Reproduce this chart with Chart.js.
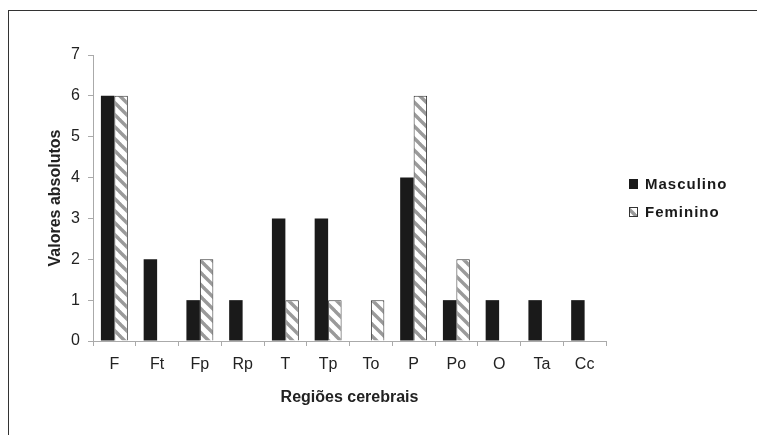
<!DOCTYPE html>
<html>
<head>
<meta charset="utf-8">
<script src="https://cdn.jsdelivr.net/npm/chart.js@4.4.1/dist/chart.umd.min.js"></script>
<style>
  html, body { margin: 0; padding: 0; background: #fff; }
  #wrap { position: relative; width: 757px; height: 435px; overflow: hidden; }
  #frame { position: absolute; left: 8px; top: 10px; width: 800px; height: 500px; border: 1.5px solid #333; box-sizing: border-box; }
  canvas { position: absolute; left: 0; top: 0; }
</style>
</head>
<body>
<div id="wrap">
  <div id="frame"></div>
  <canvas id="c" width="757" height="435"></canvas>
</div>
<script>
const categories = ['F', 'Ft', 'Fp', 'Rp', 'T', 'Tp', 'To', 'P', 'Po', 'O', 'Ta', 'Cc'];
const masculino = [6, 2, 1, 1, 3, 3, 0, 4, 1, 1, 1, 1];
const feminino  = [6, 0, 2, 0, 1, 1, 1, 6, 2, 0, 0, 0];
const seriesLabels = ['Masculino', 'Feminino'];
const yTicks = [0, 1, 2, 3, 4, 5, 6, 7];

function makeHatch() {
  const s = 12;
  const pc = document.createElement('canvas');
  pc.width = s; pc.height = s;
  const p = pc.getContext('2d');
  p.fillStyle = '#ffffff';
  p.fillRect(0, 0, s, s);
  p.strokeStyle = '#9a9a9a';
  p.lineWidth = 3.4;
  for (let k = -1; k <= 1; k++) {
    p.beginPath();
    p.moveTo(k * s - 1, -1);
    p.lineTo(k * s + s + 1, s + 1);
    p.stroke();
  }
  return p.createPattern(pc, 'repeat');
}

const ctx = document.getElementById('c').getContext('2d');
const hatch = makeHatch();

const legendPlugin = {
  id: 'customLegend',
  afterDraw(chart) {
    const c = chart.ctx;
    c.save();
    c.font = 'bold 15px "Liberation Sans", Arial, sans-serif';
    c.letterSpacing = '1px';
    c.textBaseline = 'middle';
    const items = chart.data.datasets;
    const ys = [184, 212];
    items.forEach((ds, i) => {
      const y = ys[i];
      if (i === 0) {
        c.fillStyle = '#1a1a1a';
        c.fillRect(629, y - 5, 9, 10);
      } else {
        c.fillStyle = hatch;
        c.fillRect(629, y - 5, 9, 10);
        c.strokeStyle = '#333';
        c.lineWidth = 1;
        c.strokeRect(629.5, y - 4.5, 8, 9);
      }
      c.fillStyle = '#1a1a1a';
      c.fillText(ds.label, 645, y + 1);
    });
    c.restore();
  }
};

new Chart(ctx, {
  type: 'bar',
  data: {
    labels: categories,
    datasets: [
      {
        label: seriesLabels[0],
        data: masculino,
        backgroundColor: '#1a1a1a',
        borderColor: '#1a1a1a',
        borderWidth: 0,
        categoryPercentage: 0.63,
        barPercentage: 1.0
      },
      {
        label: seriesLabels[1],
        data: feminino,
        backgroundColor: hatch,
        borderColor: '#333333',
        borderWidth: 1,
        categoryPercentage: 0.63,
        barPercentage: 1.0
      }
    ]
  },
  options: {
    responsive: false,
    animation: false,
    devicePixelRatio: 1,
    layout: { padding: { left: 0, right: 151, top: 55, bottom: 0 } },
    plugins: {
      legend: { display: false },
      tooltip: { enabled: false }
    },
    scales: {
      x: {
        grid: { drawOnChartArea: false, drawTicks: true, tickLength: 5, color: '#aaaaaa', offset: true },
        border: { color: '#aaaaaa', width: 1 },
        ticks: { color: '#222', font: { family: '"Liberation Sans", Arial, sans-serif', size: 16 }, padding: 9, maxRotation: 0 },
        title: {
          display: true,
          text: 'Regiões cerebrais',
          color: '#222',
          font: { family: '"Liberation Sans", Arial, sans-serif', size: 16, weight: 'bold' },
          padding: { top: 0, bottom: 28 }
        },
        afterFit(scale) { scale.height = 94; }
      },
      y: {
        min: 0,
        max: 7,
        afterBuildTicks(scale) { scale.ticks = yTicks.map(v => ({ value: v })); },
        grid: { drawOnChartArea: false, drawTicks: true, tickLength: 5, color: '#aaaaaa' },
        border: { color: '#aaaaaa', width: 1 },
        ticks: { color: '#222', font: { family: '"Liberation Sans", Arial, sans-serif', size: 16 }, padding: 8 },
        title: {
          display: true,
          text: 'Valores absolutos',
          color: '#222',
          font: { family: '"Liberation Sans", Arial, sans-serif', size: 16, weight: 'bold' },
          padding: { top: 46, bottom: 0 }
        },
        afterFit(scale) { scale.width = 93; }
      }
    }
  },
  plugins: [legendPlugin]
});
</script>
</body>
</html>
